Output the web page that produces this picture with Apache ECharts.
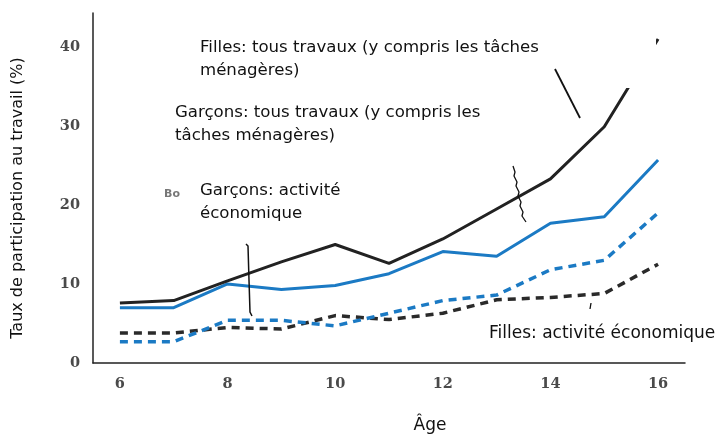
<!DOCTYPE html>
<html>
<head>
<meta charset="utf-8">
<script src="https://cdn.jsdelivr.net/npm/echarts@6/dist/echarts.min.js"></script>
<style>
html,body{margin:0;padding:0;background:#fff;}
#c{width:718px;height:437px;}
</style>
</head>
<body>
<div id="c"></div>
<script>
const ages = ['6','7','8','9','10','11','12','13','14','15','16'];
const fillesTous = [7.6, 7.9, 10.4, 12.8, 15.0, 12.6, 15.7, 19.5, 23.3, 29.9, 41.0];
const garconsTous = [7.0, 7.0, 10.0, 9.3, 9.8, 11.3, 14.1, 13.5, 17.7, 18.5, 25.7];
const garconsEco = [2.7, 2.7, 5.4, 5.4, 4.7, 6.3, 7.9, 8.6, 11.8, 13.0, 19.0];
const fillesEco = [3.8, 3.8, 4.5, 4.3, 6.0, 5.5, 6.3, 8.0, 8.3, 8.8, 12.5];
const yTicks = [0, 10, 20, 30, 40];

const chart = echarts.init(document.getElementById('c'));
const tickFont = {fontFamily: 'DejaVu Serif', fontSize: 14.5, color: '#4a4a4a', fontWeight: 'bold'};
const annFont = 'DejaVu Sans';

function box(x, y, w, h) {
  return {type: 'rect', z: 100, shape: {x: x, y: y, width: w, height: h}, style: {fill: '#fff'}};
}
function txt(x, y, s, size, extra) {
  return Object.assign({type: 'text', z: 101, x: x, y: y,
    style: {text: s, fill: '#111', fontFamily: annFont, fontSize: size || 16.6, lineHeight: 23, textVerticalAlign: 'top'}}, extra || {});
}
function seg(pts, w, dash) {
  return {type: 'polyline', z: 102, shape: {points: pts}, style: {stroke: '#111', lineWidth: w || 1.5, lineDash: dash || null, fill: null}};
}

chart.setOption({
  animation: false,
  backgroundColor: '#fff',
  grid: {left: 93, right: 33, top: 13, bottom: 74},
  xAxis: {
    type: 'category',
    data: ages,
    boundaryGap: true,
    axisLine: {lineStyle: {color: '#222', width: 1.5}},
    axisTick: {show: false},
    axisLabel: Object.assign({interval: 1, margin: 14}, tickFont)
  },
  yAxis: {
    type: 'value',
    min: 0, max: 44.3, interval: 10,
    splitLine: {show: false},
    axisLine: {show: true, lineStyle: {color: '#222', width: 1.5}},
    axisTick: {show: false},
    axisLabel: Object.assign({showMaxLabel: false, margin: 13,
      formatter: function (v) { return yTicks.indexOf(v) >= 0 ? String(v) : ''; }}, tickFont)
  },
  series: [
    {name: 'Filles: activité économique', type: 'line', data: fillesEco, symbol: 'none',
      lineStyle: {color: '#2a2a2a', width: 3.5, type: [8, 6]}},
    {name: 'Garçons: activité économique', type: 'line', data: garconsEco, symbol: 'none',
      lineStyle: {color: '#1b7ac4', width: 3.5, type: [8, 6]}},
    {name: 'Garçons: tous travaux', type: 'line', data: garconsTous, symbol: 'none',
      lineStyle: {color: '#1b7ac4', width: 3}},
    {name: 'Filles: tous travaux', type: 'line', data: fillesTous, symbol: 'none',
      lineStyle: {color: '#222', width: 3}}
  ],
  graphic: [
    box(178, 24, 478, 64),
    txt(200, 36, 'Filles: tous travaux (y compris les tâches\nménagères)'),
    box(155, 90, 385, 74),
    txt(175, 101, 'Garçons: tous travaux (y compris les\ntâches ménagères)'),
    txt(164, 189, 'Bo', 12, {style: {text: 'Bo', fill: '#777', fontFamily: 'DejaVu Sans', fontWeight: 'bold', fontSize: 11, textVerticalAlign: 'top'}}),
    box(180, 170, 170, 64),
    txt(200, 179, 'Garçons: activité\néconomique'),
    box(472, 318, 246, 32),
    txt(489, 322, 'Filles: activité économique', 17),
    seg([[555, 69], [580, 118]], 1.8),
    seg([[513, 166], [515, 172], [514, 176], [517, 182], [516, 186], [519, 192], [518, 196], [521, 202], [520, 206], [523, 212], [522, 216], [526, 222]], 1.3),
    seg([[246, 244], [248, 246], [249, 280], [250, 312], [252, 316]], 1.5),
    seg([[591, 303], [590, 309]], 1.3),
    {type: 'text', z: 101, x: 18, y: 198, rotation: Math.PI / 2, originX: 0, originY: 0,
      style: {text: 'Taux de participation au travail (%)', fill: '#111', fontFamily: annFont, fontSize: 16,
        textAlign: 'center', textVerticalAlign: 'middle'}},
    {type: 'text', z: 101, x: 430, y: 426,
      style: {text: 'Âge', fill: '#111', fontFamily: annFont, fontSize: 17, textAlign: 'center', textVerticalAlign: 'middle'}}
  ]
});
</script>
</body>
</html>
